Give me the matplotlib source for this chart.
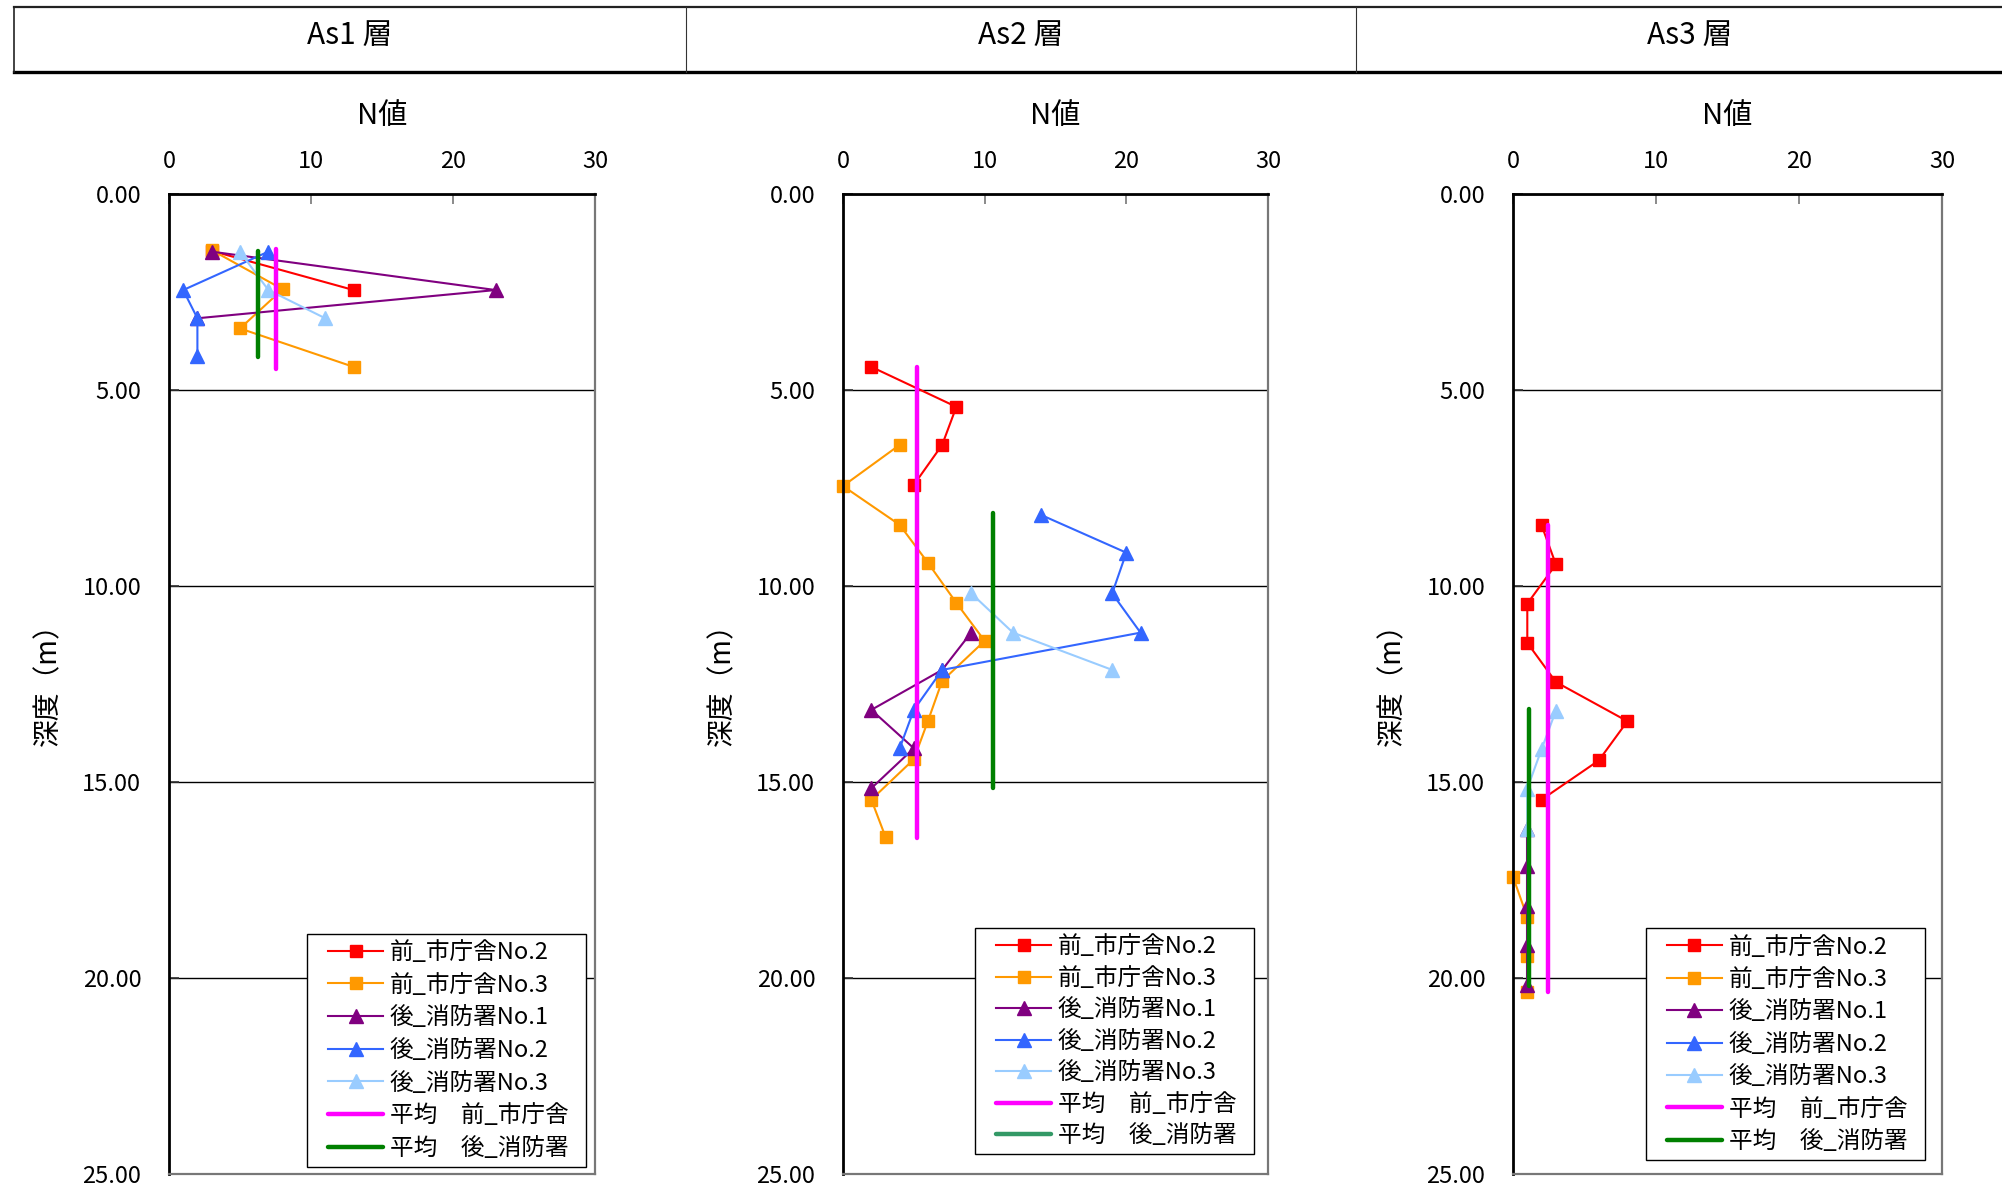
import numpy as np
import matplotlib.pyplot as plt
from matplotlib.lines import Line2D
from matplotlib.legend_handler import HandlerLine2D

plt.rcParams['font.family'] = ['Noto Sans CJK JP', 'DejaVu Sans']

W, H = 2002, 1191

# 層の名前
layers = ['As1 層', 'As2 層', 'As3 層']
names = ['前_市庁舎No.2', '前_市庁舎No.3', '後_消防署No.1', '後_消防署No.2', '後_消防署No.3']
avg_names = ['平均\u3000前_市庁舎  ', '平均\u3000後_消防署  ']

# As1 層 (N値, 深度)
as1_mae2_n = [3, 13]
as1_mae2_d = [1.45, 2.45]
as1_mae3_n = [3, 8, 5, 13]
as1_mae3_d = [1.43, 2.43, 3.43, 4.41]
as1_ato1_n = [3, 23, 2]
as1_ato1_d = [1.47, 2.45, 3.17]
as1_ato2_n = [7, 1, 2, 2]
as1_ato2_d = [1.47, 2.45, 3.17, 4.13]
as1_ato3_n = [5, 7, 11]
as1_ato3_d = [1.48, 2.45, 3.17]
as1_avg_mae = [7.5, 7.5]
as1_avg_mae_d = [1.40, 4.46]
as1_avg_ato = [6.3, 6.3]
as1_avg_ato_d = [1.45, 4.15]

# As2 層
as2_mae2_n = [2, 8, 7, 5]
as2_mae2_d = [4.41, 5.43, 6.40, 7.42]
as2_mae3_n = [4, 0, 4, 6, 8, 10, 7, 6, 5, 2, 3]
as2_mae3_d = [6.40, 7.45, 8.44, 9.41, 10.43, 11.40, 12.42, 13.44, 14.42, 15.45, 16.40]
as2_ato1_n = [9, 7, 2, 5, 2]
as2_ato1_d = [11.21, 12.14, 13.16, 14.14, 15.16]
as2_ato2_n = [14, 20, 19, 21, 7, 5, 4]
as2_ato2_d = [8.19, 9.15, 10.19, 11.19, 12.14, 13.16, 14.14]
as2_ato3_n = [9, 12, 19]
as2_ato3_d = [10.17, 11.19, 12.14]
as2_avg_mae = [5.2, 5.2]
as2_avg_mae_d = [4.41, 16.44]
as2_avg_ato = [10.6, 10.6]
as2_avg_ato_d = [8.15, 15.16]

# As3 層
as3_mae2_n = [2, 3, 1, 1, 3, 8, 6, 2]
as3_mae2_d = [8.45, 9.45, 10.45, 11.45, 12.45, 13.45, 14.45, 15.45]
as3_mae3_n = [0, 1, 1, 1]
as3_mae3_d = [17.42, 18.45, 19.45, 20.36]
as3_ato1_n = [1, 1, 1, 1, 1]
as3_ato1_d = [16.19, 17.15, 18.17, 19.15, 20.18]
as3_ato2_n = []
as3_ato2_d = []
as3_ato3_n = [3, 2, 1, 1]
as3_ato3_d = [13.18, 14.16, 15.17, 16.19]
as3_avg_mae = [2.42, 2.42]
as3_avg_mae_d = [8.44, 20.36]
as3_avg_ato = [1.15, 1.15]
as3_avg_ato_d = [13.14, 20.21]

panels = [
    [(as1_mae2_n, as1_mae2_d), (as1_mae3_n, as1_mae3_d), (as1_ato1_n, as1_ato1_d),
     (as1_ato2_n, as1_ato2_d), (as1_ato3_n, as1_ato3_d),
     (as1_avg_mae, as1_avg_mae_d), (as1_avg_ato, as1_avg_ato_d)],
    [(as2_mae2_n, as2_mae2_d), (as2_mae3_n, as2_mae3_d), (as2_ato1_n, as2_ato1_d),
     (as2_ato2_n, as2_ato2_d), (as2_ato3_n, as2_ato3_d),
     (as2_avg_mae, as2_avg_mae_d), (as2_avg_ato, as2_avg_ato_d)],
    [(as3_mae2_n, as3_mae2_d), (as3_mae3_n, as3_mae3_d), (as3_ato1_n, as3_ato1_d),
     (as3_ato2_n, as3_ato2_d), (as3_ato3_n, as3_ato3_d),
     (as3_avg_mae, as3_avg_mae_d), (as3_avg_ato, as3_avg_ato_d)],
]

colors = ['#FF0000', '#FF9900', '#800080', '#3366FF', '#99CCFF']
markers = ['s', 's', '^', '^', '^']
msizes = [8.5, 8.5, 9.5, 9.5, 9.5]
avg_colors = ['#FF00FF', '#008000']

# 軸の位置 (ピクセル)
ax_left = [169, 843, 1513]
ax_right = [595, 1268, 1942]
ax_top, ax_bot = 194, 1174
leg_anchor = [(0.979, 0.007), (0.967, 0.020), (0.960, 0.014)]
leg_space = [0.41, 0.36, 0.40]

fig = plt.figure(figsize=(W / 100, H / 100), dpi=100)

# 上の見出し枠
hdr = fig.add_axes([0, 0, 1, 1])
hdr.set_xlim(0, W)
hdr.set_ylim(H, 0)
hdr.axis('off')
hdr.plot([14, W + 10], [6.5, 6.5], color='#222222', lw=1.6)
hdr.plot([14, W + 10], [72, 72], color='black', lw=2.4)
hdr.plot([14, 14], [6.5, 72], color='#222222', lw=1.2)
for xd in [686, 1356]:
    hdr.plot([xd, xd], [6.5, 72], color='#333333', lw=0.8)
for xc, lab in zip([350, 1021, 1690], layers):
    hdr.text(xc, 35, lab, ha='center', va='center', fontsize=21.5)

for i, data in enumerate(panels):
    l, r = ax_left[i], ax_right[i]
    ax = fig.add_axes([l / W, 1 - ax_bot / H, (r - l) / W, (ax_bot - ax_top) / H])
    for j in range(5):
        n, d = data[j]
        ax.plot(n, d, color=colors[j], marker=markers[j], markersize=msizes[j],
                lw=1.5, label=names[j], clip_on=False)
    for j in range(2):
        n, d = data[5 + j]
        ax.plot(n, d, color=avg_colors[j], lw=3.2, label=avg_names[j],
                solid_capstyle='round')

    ax.set_xlim(0, 30)
    ax.set_ylim(25, 0)
    ax.set_xticks([0, 10, 20, 30])
    ax.set_yticks(np.arange(0, 26, 5))
    ax.set_yticklabels([f'{v:.2f}' for v in np.arange(0, 26, 5)])
    ax.xaxis.tick_top()
    ax.tick_params(axis='x', direction='in', length=7, width=1.2, color='#777777',
                   labelsize=17, pad=15)
    ax.tick_params(axis='y', direction='in', length=7, width=1.2, color='#333333',
                   labelsize=17, pad=20)
    ax.grid(axis='y', color='black', lw=1.0)
    ax.set_axisbelow(True)
    for side in ['top', 'left']:
        ax.spines[side].set_color('black')
        ax.spines[side].set_linewidth(2.0)
    for side in ['right', 'bottom']:
        ax.spines[side].set_color('#777777')
        ax.spines[side].set_linewidth(1.6)

    leg = ax.legend(loc='lower right', bbox_to_anchor=leg_anchor[i], borderaxespad=0,
                    fontsize=17, frameon=True, fancybox=False, framealpha=1,
                    edgecolor='black', handlelength=2.9, handletextpad=0.3,
                    labelspacing=leg_space[i], borderpad=0.3, numpoints=1,
                    handler_map={Line2D: HandlerLine2D(xpad=0.6)})
    leg.get_frame().set_linewidth(1.0)
    if i == 1:
        leg.get_lines()[-1].set_color('#339966')

    xc = (l + r) / 2
    fig.text(xc / W, 1 - 116 / H, 'N値', ha='center', va='center', fontsize=21)
    fig.text((l - 121) / W, 1 - 678 / H, '深度（m）', ha='center', va='center',
             rotation=90, fontsize=20)

fig.savefig('out.png', dpi=100)
